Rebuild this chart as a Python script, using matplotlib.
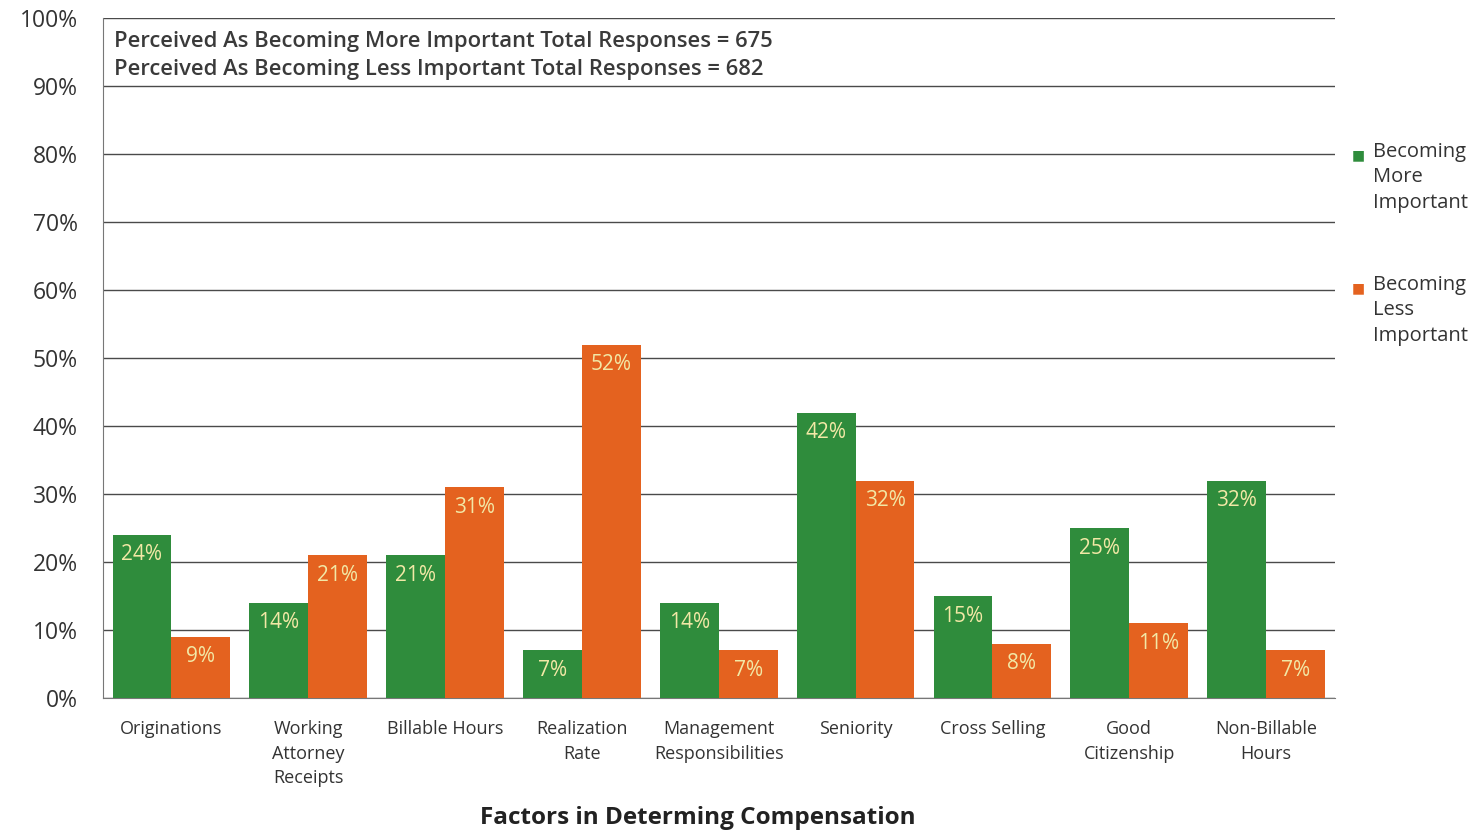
import numpy as np
import matplotlib.pyplot as plt

plt.rcParams['font.family'] = ['Open Sans', 'DejaVu Sans']

factors = ["Originations", "Working\nAttorney\nReceipts", "Billable Hours", "Realization\nRate",
           "Management\nResponsibilities", "Seniority", "Cross Selling", "Good\nCitizenship",
           "Non-Billable\nHours"]
more_important = [24, 14, 21, 7, 14, 42, 15, 25, 32]
less_important = [9, 21, 31, 52, 7, 32, 8, 11, 7]
total_more = 675
total_less = 682

green = '#2f8c3c'
orange = '#e4621f'
lbl_col = '#f2e8a6'

fig = plt.figure(figsize=(14.75, 8.3), dpi=100)
ax = fig.add_axes([0.0698, 0.159, 0.835, 0.819])

x = np.arange(len(factors))
w = 0.43
b1 = ax.bar(x - w/2, more_important, w, color=green, zorder=3)
b2 = ax.bar(x + w/2, less_important, w, color=orange, zorder=3)

# value labels just inside the top of each bar
for bars, vals in ((b1, more_important), (b2, less_important)):
    for b, v in zip(bars, vals):
        ax.text(b.get_x() + b.get_width()/2, v - 1.4, f"{v}%", ha='center', va='top',
                color=lbl_col, fontsize=15, zorder=4)

ax.set_xlim(-0.5, len(factors) - 0.5)
ax.set_ylim(0, 100)
ax.set_yticks(np.arange(0, 101, 10))
ax.set_yticklabels([f"{t}%" for t in range(0, 101, 10)], fontsize=16.5, color='#333333')
ax.set_xticks(x)
ax.set_xticklabels(factors, fontsize=13, color='#333333', linespacing=1.45)
ax.tick_params(axis='x', length=0, pad=16)
ax.tick_params(axis='y', length=0, pad=18)
ax.grid(axis='y', color='#4a4a4a', linewidth=1.0, zorder=0)
for side in ('top', 'right'):
    ax.spines[side].set_visible(False)
ax.spines['left'].set_color('#777777')
ax.spines['bottom'].set_color('#777777')

# response totals in the top band
ax.text(0.009, 0.966, f"Perceived As Becoming More Important Total Responses = {total_more}",
        transform=ax.transAxes, fontsize=15.8, fontweight='semibold', color='#3a3a3a', va='center')
ax.text(0.009, 0.925, f"Perceived As Becoming Less Important Total Responses = {total_less}",
        transform=ax.transAxes, fontsize=15.8, fontweight='semibold', color='#3a3a3a', va='center')

# legend on the right
for y0, col, txt in ((0.813, green, "Becoming\nMore\nImportant"),
                     (0.653, orange, "Becoming\nLess\nImportant")):
    fig.text(0.9165, y0, "■", color=col, fontsize=10, va='center', family='DejaVu Sans')
    fig.text(0.931, y0 + 0.016, txt, fontsize=14.5, color='#333333', va='top', linespacing=1.36)

fig.text(0.473, 0.0145, "Factors in Determing Compensation", ha='center', va='center',
         fontsize=17.5, fontweight='bold', color='#222222')

plt.savefig("out.png", dpi=100)
